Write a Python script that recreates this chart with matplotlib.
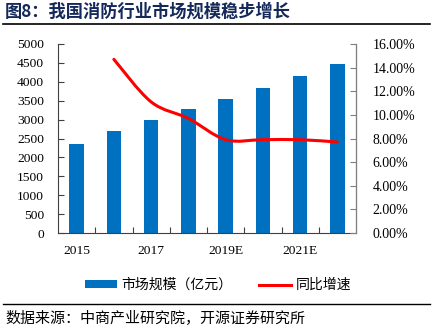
import matplotlib
matplotlib.use('Agg')
import matplotlib.pyplot as plt
from matplotlib.path import Path
from matplotlib.patches import PathPatch
from matplotlib.lines import Line2D
from matplotlib.ticker import FixedLocator, FuncFormatter
import numpy as np

# ---- data ----
years = ['2015', '2016', '2017', '2018', '2019E', '2020E', '2021E', '2022E']
market_size = [2350, 2700, 3000, 3290, 3550, 3840, 4150, 4460]
growth_years = ['2016', '2017', '2018', '2019E', '2020E', '2021E', '2022E']
growth_pct = [14.7, 11.1, 9.7, 7.9, 7.9, 7.9, 7.7]
shown_year_labels = ['2015', '2017', '2019E', '2021E']
left_ticks = [0, 500, 1000, 1500, 2000, 2500, 3000, 3500, 4000, 4500, 5000]
right_ticks = [0, 2, 4, 6, 8, 10, 12, 14, 16]

title = '图8：我国消防行业市场规模稳步增长'
source = '数据来源：中商产业研究院，开源证券研究所'
bar_label = '市场规模（亿元）'
line_label = '同比增速'

BLUE = '#0070C0'
RED = '#FF0000'
NAVY = '#14285A'
CJK = ['Noto Sans CJK SC', 'DejaVu Sans']
NUM = ['Liberation Serif', 'DejaVu Serif']

plt.rcParams['font.family'] = CJK

W, H = 433, 334
fig = plt.figure(figsize=(W / 100, H / 100), dpi=100)

x0, x1, ytop, ybot = 58, 356, 44, 233
ax = fig.add_axes([x0 / W, 1 - ybot / H, (x1 - x0) / W, (ybot - ytop) / H])
ax2 = ax.twinx()

x = np.arange(len(years))
bars = ax.bar(x, market_size, width=0.39, color=BLUE, zorder=2, label=bar_label)
ax.set_xlim(-0.5, len(years) - 0.5)
ax.set_ylim(0, 5000)
ax.set_yticks(left_ticks)

# x ticks: labels every other category, tick marks at category boundaries
ax.set_xticks([years.index(y) for y in shown_year_labels])
ax.set_xticklabels(shown_year_labels)
ax.tick_params(axis='x', length=0, pad=9)
ax.xaxis.set_minor_locator(FixedLocator(np.arange(0.5, len(years) - 0.5, 1)))
ax.tick_params(axis='x', which='minor', direction='in', length=4, color='#404040', width=0.8)
ax.tick_params(axis='y', direction='in', length=4, width=0.8, color='#404040', pad=10)

for lab in ax.get_xticklabels() + ax.get_yticklabels():
    lab.set_family(NUM)
    lab.set_fontsize(9.7)

for s in ['top']:
    ax.spines[s].set_visible(False)
    ax2.spines[s].set_visible(False)
ax.spines['left'].set_color('#404040')
ax.spines['bottom'].set_color('#404040')
ax2.spines['left'].set_visible(False)
ax2.spines['bottom'].set_visible(False)
ax2.spines['right'].set_color('#808080')

# right axis
ax2.set_ylim(0, 16)
ax2.set_yticks(right_ticks)
ax2.yaxis.set_major_formatter(FuncFormatter(lambda v, p: f'{v:.2f}%'))
ax2.tick_params(axis='y', direction='in', length=4, width=0.8, color='#808080', pad=12)
for lab in ax2.get_yticklabels():
    lab.set_family(NUM)
    lab.set_fontsize(10)

# smoothed growth line (Catmull-Rom -> cubic Bezier through data points)
gx = np.array([years.index(y) for y in growth_years], dtype=float)
gy = np.array(growth_pct, dtype=float)
pts = np.column_stack([gx, gy])
ext = np.vstack([pts[0], pts, pts[-1]])
verts = [tuple(pts[0])]
codes = [Path.MOVETO]
for i in range(1, len(ext) - 2):
    p0, p1, p2, p3 = ext[i - 1], ext[i], ext[i + 1], ext[i + 2]
    c1 = p1 + (p2 - p0) / 6.0
    c2 = p2 - (p3 - p1) / 6.0
    verts += [tuple(c1), tuple(c2), tuple(p2)]
    codes += [Path.CURVE4, Path.CURVE4, Path.CURVE4]
curve = PathPatch(Path(verts, codes), facecolor='none', edgecolor=RED, lw=2.2,
                  capstyle='round', joinstyle='round', zorder=3)
ax2.add_patch(curve)

# legend
line_handle = Line2D([], [], color=RED, lw=2.2)
fig.legend([bars, line_handle], [bar_label, line_label], loc='center',
           bbox_to_anchor=(218 / W, 1 - 285 / H), ncol=2, frameon=False,
           fontsize=10, handlelength=2.3, handleheight=0.45, handletextpad=0.35,
           columnspacing=1.9, borderaxespad=0, borderpad=0)

# title and rules
fig.text(5 / W, 1 - 12 / H, title, fontsize=12.4, fontweight='bold', color=NAVY,
         va='center', ha='left')
fig.add_artist(Line2D([3 / W, 430 / W], [1 - 23.5 / H, 1 - 23.5 / H], color='black', lw=1.2))
fig.add_artist(Line2D([3 / W, 430 / W], [1 - 304 / H, 1 - 304 / H], color='black', lw=1.0))
fig.text(5 / W, 1 - 318 / H, source, fontsize=10.8, color='black', va='center', ha='left')

fig.savefig('out.png', dpi=100)
